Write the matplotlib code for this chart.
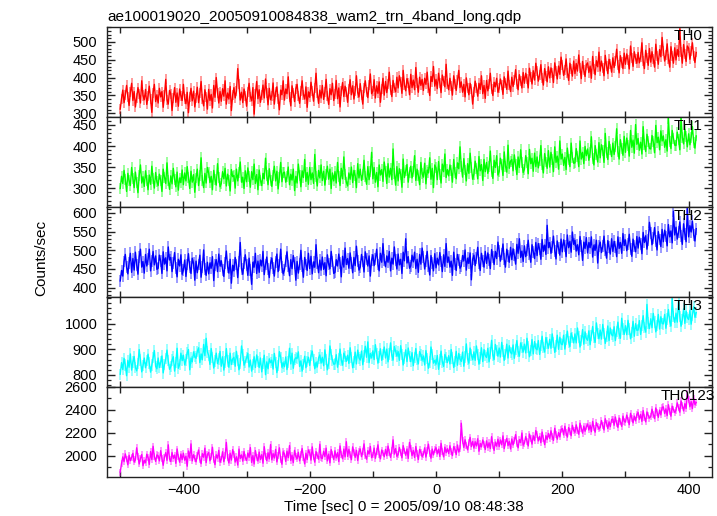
import numpy as np
import matplotlib
matplotlib.use('Agg')
import matplotlib.pyplot as plt
from matplotlib.ticker import MultipleLocator, FixedLocator, FuncFormatter

plt.rcParams['font.family'] = ['Liberation Sans', 'DejaVu Sans']

TITLE = "ae100019020_20050910084838_wam2_trn_4band_long.qdp"
XLABEL = "Time [sec] 0 = 2005/09/10 08:48:38"
YLABEL = "Counts/sec"

# time bins (s): first bin centre and bin width
BIN_START = -500.0
BIN_WIDTH = 2.0

th0 = [312, 341, 365, 330, 352, 378, 347, 322, 359, 384,
       336, 361, 318, 344, 372, 355, 329, 391, 350, 338,
       367, 325, 349, 376, 340, 303, 358, 381, 333, 352,
       329, 370, 346, 361, 317, 350, 395, 338, 326, 364,
       355, 308, 343, 372, 331, 357, 320, 368, 349, 336,
       381, 341, 327, 359, 302, 346, 370, 335, 362, 318,
       344, 373, 330, 356, 389, 339, 321, 366, 347, 312,
       367, 336, 353, 315, 378, 345, 400, 358, 329, 361,
       334, 369, 348, 391, 326, 357, 340, 375, 308, 351,
       372, 343, 362, 425, 381, 337, 359, 330, 368, 349,
       320, 361, 384, 347, 335, 372, 298, 354, 389, 341,
       366, 331, 352, 379, 343, 396, 357, 324, 370, 338,
       349, 385, 326, 360, 374, 339, 310, 365, 352, 391,
       337, 368, 355, 402, 346, 321, 377, 358, 333, 369,
       381, 349, 328, 363, 391, 352, 340, 374, 317, 360,
       345, 387, 362, 334, 370, 412, 356, 328, 365, 343,
       378, 339, 360, 395, 348, 325, 369, 352, 384, 336,
       355, 392, 341, 371, 318, 362, 386, 347, 376, 359,
       331, 369, 394, 352, 377, 340, 363, 405, 358, 346,
       383, 352, 326, 370, 391, 361, 344, 378, 410, 355,
       362, 394, 343, 377, 356, 388, 331, 369, 398, 351,
       389, 358, 381, 415, 366, 347, 392, 372, 360, 401,
       371, 405, 388, 356, 420, 379, 363, 397, 384, 352,
       409, 372, 393, 366, 428, 384, 359, 401, 378, 395,
       364, 398, 381, 415, 372, 350, 403, 389, 431, 376,
       395, 369, 412, 384, 358, 407, 390, 374, 437, 382,
       366, 398, 377, 351, 405, 383, 364, 393, 420, 372,
       388, 359, 381, 346, 399, 371, 352, 384, 367, 326,
       361, 390, 372, 348, 384, 367, 405, 355, 378, 342,
       392, 363, 381, 412, 368, 350, 387, 374, 398, 359,
       370, 396, 378, 353, 402, 385, 367, 418, 380, 361,
       401, 375, 393, 422, 382, 366, 408, 390, 371, 414,
       384, 412, 397, 371, 426, 401, 382, 419, 393, 440,
       417, 390, 408, 436, 398, 379, 425, 405, 388, 430,
       399, 427, 413, 386, 441, 418, 396, 432, 409, 457,
       434, 406, 421, 452, 413, 392, 440, 423, 404, 446,
       411, 439, 418, 463, 427, 397, 445, 420, 403, 436,
       441, 414, 432, 398, 459, 425, 408, 447, 430, 471,
       418, 446, 427, 405, 462, 433, 411, 451, 437, 415,
       455, 428, 447, 479, 436, 413, 461, 442, 425, 468,
       437, 466, 449, 424, 488, 455, 431, 472, 453, 440,
       470, 441, 458, 497, 446, 425, 476, 455, 434, 481,
       443, 472, 451, 429, 493, 460, 437, 478, 458, 512,
       475, 446, 463, 494, 452, 429, 486, 461, 440, 483,
       449, 478, 459, 536, 471, 440, 492, 465, 445, 488,
       482, 451, 473, 497, 460, 442, 470]

th1 = [299, 328, 311, 342, 320, 292, 335, 317, 306, 349,
       323, 301, 338, 314, 289, 330, 355, 312, 327, 304,
       341, 318, 296, 331, 309, 352, 322, 300, 337, 315,
       306, 333, 319, 292, 345, 326, 311, 360, 318, 297,
       329, 310, 347, 321, 303, 338, 295, 324, 313, 343,
       308, 336, 317, 351, 326, 299, 340, 314, 332, 290,
       324, 345, 306, 330, 372, 319, 301, 335, 312, 349,
       336, 313, 328, 296, 342, 321, 307, 358, 325, 303,
       311, 339, 322, 347, 305, 333, 318, 293, 344, 327,
       330, 300, 345, 317, 338, 362, 314, 326, 299, 341,
       315, 348, 327, 302, 339, 320, 357, 311, 332, 296,
       343, 318, 306, 335, 322, 371, 329, 308, 346, 319,
       304, 331, 352, 317, 340, 298, 326, 361, 315, 336,
       338, 314, 327, 350, 308, 333, 319, 345, 294, 328,
       312, 357, 330, 303, 341, 325, 368, 316, 337, 309,
       349, 320, 336, 311, 380, 327, 305, 342, 324, 355,
       318, 340, 307, 333, 352, 321, 345, 299, 336, 317,
       339, 312, 361, 328, 306, 347, 322, 374, 333, 314,
       305, 336, 321, 350, 313, 342, 329, 301, 358, 324,
       345, 318, 333, 366, 327, 309, 351, 320, 339, 385,
       322, 349, 314, 337, 303, 355, 331, 344, 316, 362,
       340, 311, 358, 326, 347, 320, 393, 335, 307, 351,
       317, 346, 333, 302, 369, 325, 341, 356, 314, 338,
       352, 324, 339, 377, 318, 345, 330, 308, 361, 334,
       326, 359, 310, 343, 336, 372, 321, 347, 301, 355,
       348, 320, 363, 333, 312, 357, 339, 381, 325, 344,
       329, 355, 341, 314, 368, 337, 322, 360, 346, 398,
       352, 326, 370, 343, 317, 358, 335, 383, 349, 321,
       333, 364, 347, 322, 375, 341, 356, 318, 368, 339,
       361, 335, 352, 388, 340, 323, 366, 349, 377, 331,
       339, 371, 355, 330, 386, 352, 338, 402, 347, 364,
       368, 341, 379, 356, 332, 374, 349, 391, 360, 337,
       345, 377, 360, 334, 392, 358, 371, 340, 383, 351,
       374, 348, 366, 401, 355, 336, 382, 362, 347, 389,
       350, 385, 367, 339, 398, 361, 376, 345, 412, 369,
       381, 354, 373, 344, 395, 368, 351, 407, 372, 359,
       360, 394, 376, 351, 412, 369, 385, 358, 399, 377,
       393, 366, 384, 422, 371, 355, 401, 380, 362, 408,
       372, 403, 389, 361, 430, 384, 368, 411, 392, 375,
       407, 380, 398, 441, 386, 369, 415, 395, 378, 423,
       385, 419, 401, 376, 437, 397, 414, 383, 451, 404,
       418, 390, 409, 381, 446, 403, 387, 428, 411, 394,
       393, 425, 410, 384, 449, 408, 421, 391, 436, 412,
       424, 397, 415, 388, 466, 411, 394, 437, 418, 402,
       401, 433, 416, 391, 468, 420, 405, 440, 422, 398,
       429, 403, 421, 446, 409, 395, 424]

th2 = [418, 446, 431, 470, 489, 455, 437, 466, 492, 441,
       478, 447, 495, 461, 436, 482, 503, 455, 470, 439,
       489, 458, 476, 503, 445, 472, 497, 461, 485, 449,
       452, 487, 471, 438, 496, 463, 480, 445, 509, 474,
       481, 443, 467, 494, 452, 429, 476, 458, 488, 436,
       447, 474, 430, 462, 491, 455, 438, 479, 466, 420,
       471, 440, 462, 487, 428, 455, 501, 449, 433, 468,
       437, 466, 452, 483, 419, 461, 475, 443, 490, 458,
       472, 448, 430, 467, 498, 456, 439, 476, 412, 460,
       445, 481, 462, 427, 470, 521, 451, 436, 465, 488,
       460, 433, 479, 447, 409, 468, 455, 492, 438, 471,
       441, 474, 458, 497, 435, 462, 482, 450, 427, 466,
       479, 452, 431, 468, 490, 443, 461, 503, 455, 437,
       448, 471, 496, 459, 432, 475, 451, 486, 465, 420,
       470, 439, 463, 500, 457, 428, 481, 462, 446, 492,
       451, 484, 437, 469, 455, 515, 466, 440, 474, 447,
       482, 449, 467, 432, 488, 463, 451, 497, 470, 438,
       441, 475, 458, 490, 467, 429, 484, 455, 506, 462,
       478, 452, 493, 466, 440, 481, 459, 511, 471, 447,
       455, 489, 470, 442, 496, 476, 458, 485, 431, 474,
       488, 459, 477, 503, 462, 445, 492, 468, 518, 473,
       456, 485, 468, 497, 445, 479, 463, 509, 474, 450,
       490, 461, 476, 438, 495, 472, 531, 466, 483, 452,
       458, 487, 469, 495, 451, 476, 441, 489, 463, 506,
       481, 450, 472, 497, 458, 434, 486, 465, 445, 491,
       453, 479, 461, 494, 470, 443, 488, 457, 518, 468,
       482, 455, 471, 433, 495, 464, 446, 489, 473, 452,
       458, 486, 472, 501, 447, 479, 465, 493, 421, 476,
       487, 459, 480, 508, 466, 446, 492, 471, 455, 497,
       465, 493, 474, 451, 502, 481, 462, 497, 478, 522,
       499, 471, 490, 517, 476, 455, 503, 485, 468, 508,
       475, 504, 487, 463, 516, 492, 531, 481, 498, 470,
       512, 483, 500, 527, 491, 468, 515, 496, 478, 521,
       486, 518, 503, 476, 529, 497, 514, 489, 567, 507,
       521, 492, 510, 538, 499, 477, 525, 506, 487, 530,
       496, 528, 512, 483, 541, 507, 524, 495, 549, 516,
       527, 498, 515, 488, 537, 511, 473, 522, 505, 534,
       493, 521, 507, 536, 482, 514, 500, 527, 466, 511,
       522, 494, 511, 538, 500, 479, 526, 508, 490, 531,
       497, 524, 510, 483, 536, 505, 521, 492, 545, 513,
       528, 499, 516, 543, 503, 484, 530, 511, 496, 537,
       506, 535, 518, 491, 548, 521, 539, 503, 527, 575,
       546, 515, 533, 561, 524, 501, 550, 529, 510, 556,
       523, 554, 537, 512, 569, 536, 552, 520, 605, 541,
       562, 530, 548, 576, 539, 516, 571, 544, 523, 612,
       536, 566, 549, 578, 541, 525, 558]

th3 = [803, 848, 821, 865, 839, 797, 857, 830, 882, 819,
       851, 872, 829, 816, 845, 899, 858, 812, 836, 866,
       828, 855, 881, 847, 811, 839, 869, 895, 834, 824,
       866, 829, 850, 874, 808, 841, 863, 897, 855, 822,
       832, 858, 871, 815, 849, 904, 826, 840, 885, 856,
       877, 839, 858, 886, 899, 820, 866, 851, 890, 871,
       865, 892, 906, 848, 882, 859, 919, 875, 943, 890,
       876, 841, 903, 868, 827, 854, 885, 844, 862, 892,
       834, 871, 819, 850, 903, 854, 830, 885, 841, 862,
       869, 834, 892, 857, 820, 844, 913, 878, 838, 851,
       867, 884, 831, 858, 815, 840, 871, 829, 878, 853,
       829, 866, 812, 845, 877, 801, 851, 824, 863, 848,
       858, 823, 884, 849, 809, 836, 891, 869, 830, 847,
       832, 870, 821, 851, 904, 843, 885, 826, 860, 867,
       864, 890, 833, 855, 815, 841, 873, 828, 852, 869,
       837, 875, 893, 858, 824, 849, 831, 866, 878, 846,
       869, 836, 898, 861, 820, 845, 913, 880, 857, 842,
       843, 879, 830, 862, 901, 858, 838, 885, 871, 853,
       877, 845, 906, 868, 828, 851, 889, 843, 897, 866,
       858, 893, 840, 874, 912, 869, 929, 848, 884, 866,
       894, 860, 918, 883, 846, 870, 902, 857, 879, 909,
       866, 901, 851, 882, 925, 877, 858, 911, 893, 874,
       891, 857, 914, 879, 839, 866, 898, 852, 905, 873,
       852, 887, 836, 869, 903, 861, 843, 891, 878, 858,
       874, 839, 895, 863, 826, 850, 909, 881, 846, 857,
       842, 876, 822, 859, 893, 851, 833, 880, 867, 848,
       875, 843, 899, 866, 829, 853, 892, 838, 884, 861,
       853, 889, 834, 870, 921, 862, 846, 905, 878, 859,
       890, 857, 913, 879, 842, 866, 906, 852, 899, 875,
       868, 904, 851, 886, 935, 877, 860, 919, 895, 873,
       905, 870, 927, 893, 857, 881, 920, 866, 914, 888,
       882, 917, 865, 900, 934, 891, 873, 925, 908, 889,
       920, 886, 943, 909, 871, 896, 938, 882, 930, 903,
       898, 934, 880, 915, 951, 907, 889, 946, 925, 904,
       939, 904, 960, 926, 888, 913, 955, 900, 947, 921,
       918, 955, 901, 937, 971, 928, 911, 963, 946, 925,
       960, 925, 983, 948, 909, 934, 977, 920, 968, 942,
       935, 972, 918, 954, 989, 946, 927, 1003, 963, 941,
       975, 940, 997, 962, 923, 949, 991, 934, 983, 957,
       952, 988, 934, 970, 1006, 961, 943, 1021, 979, 958,
       992, 957, 1013, 979, 941, 966, 1009, 951, 1000, 974,
       975, 1012, 958, 994, 1031, 985, 967, 1075, 1003, 981,
       1019, 984, 1040, 1006, 968, 993, 1036, 979, 1027, 1001,
       999, 1036, 982, 1018, 1055, 1009, 991, 1098, 1027, 1005,
       1041, 1006, 1090, 1028, 990, 1015, 1058, 1001, 1049, 1023,
       1016, 1052, 998, 1034, 1066, 1025, 1043]

th0123 = [1860, 1935, 1992, 1951, 2018, 1974, 1923, 2006, 1959, 1987,
          2023, 1948, 1966, 2071, 1994, 1930, 1979, 2012, 1915, 1962,
          1941, 2015, 1987, 1926, 2038, 1969, 2084, 1995, 1953, 2009,
          2001, 1957, 2046, 1978, 1919, 1990, 2029, 1962, 2097, 1974,
          1952, 2030, 1979, 2008, 1936, 2061, 1991, 1946, 2017, 1968,
          2024, 1963, 1998, 1911, 2043, 1982, 2105, 1957, 2011, 1976,
          1949, 2006, 2052, 1970, 1933, 2020, 1989, 2068, 1942, 2013,
          2031, 1958, 1995, 2076, 1967, 1924, 2010, 1981, 2049, 1946,
          1972, 2037, 1950, 2002, 2118, 1985, 1939, 2024, 1964, 2055,
          2015, 1947, 1993, 1921, 2060, 1978, 2009, 1955, 2039, 1983,
          1961, 2026, 1988, 2073, 1944, 2003, 1930, 2047, 1990, 1956,
          2034, 1969, 2011, 1937, 2081, 1997, 1959, 2028, 1975, 2099,
          1966, 2020, 1982, 2057, 1948, 2004, 2071, 1970, 1928, 2036,
          2018, 1953, 2042, 1985, 2090, 1961, 2007, 1942, 2049, 1996,
          1975, 2032, 1958, 2011, 2065, 1989, 1931, 2024, 1969, 2053,
          2027, 1964, 2079, 1991, 1946, 2038, 2003, 1972, 2102, 1983,
          1978, 2041, 1995, 2068, 1957, 2016, 1940, 2055, 2009, 1969,
          2045, 1983, 2029, 1951, 2087, 2011, 1976, 2060, 1992, 2124,
          1996, 2058, 2010, 1967, 2079, 2032, 1988, 2049, 1961, 2036,
          2061, 1994, 2038, 2105, 2003, 1972, 2046, 2017, 2083, 1985,
          2008, 2069, 1980, 2035, 2097, 2014, 1975, 2052, 2026, 1993,
          2057, 2002, 2086, 2031, 1988, 2049, 2140, 2016, 2064, 1997,
          2011, 2074, 2029, 1984, 2090, 2043, 2006, 2061, 1979, 2118,
          2065, 2003, 2048, 1987, 2082, 2022, 1969, 2057, 2034, 1995,
          2014, 2071, 1990, 2046, 2103, 2025, 1981, 2060, 2009, 2053,
          2072, 2018, 2059, 1996, 2110, 2035, 1992, 2077, 2028, 2063,
          2021, 2089, 2040, 2003, 2081, 2057, 2012, 2096, 2034, 2068,
          2285, 2132, 2074, 2141, 2089, 2053, 2117, 2162, 2081, 2126,
          2068, 2124, 2087, 2150, 2041, 2108, 2079, 2139, 2102, 2056,
          2131, 2073, 2115, 2064, 2168, 2092, 2049, 2121, 2085, 2146,
          2082, 2139, 2097, 2175, 2064, 2118, 2153, 2090, 2127, 2061,
          2148, 2096, 2135, 2186, 2109, 2071, 2142, 2117, 2200, 2094,
          2112, 2168, 2126, 2087, 2191, 2149, 2103, 2176, 2134, 2221,
          2184, 2131, 2170, 2116, 2208, 2149, 2098, 2177, 2143, 2196,
          2153, 2219, 2172, 2135, 2241, 2188, 2146, 2203, 2166, 2230,
          2238, 2183, 2259, 2201, 2164, 2247, 2215, 2176, 2266, 2222,
          2206, 2271, 2224, 2189, 2285, 2242, 2198, 2260, 2215, 2253,
          2279, 2226, 2268, 2211, 2301, 2243, 2207, 2290, 2257, 2235,
          2248, 2308, 2263, 2226, 2324, 2281, 2239, 2297, 2255, 2316,
          2321, 2267, 2339, 2284, 2249, 2330, 2296, 2258, 2347, 2302,
          2294, 2356, 2313, 2272, 2371, 2329, 2288, 2347, 2305, 2362,
          2378, 2319, 2361, 2301, 2395, 2336, 2297, 2383, 2352, 2329,
          2344, 2407, 2361, 2325, 2418, 2380, 2336, 2399, 2357, 2423,
          2427, 2369, 2410, 2351, 2446, 2388, 2346, 2433, 2402, 2378,
          2398, 2462, 2419, 2381, 2479, 2436, 2392, 2455, 2413, 2541,
          2489, 2428, 2473, 2412, 2502, 2447, 2466]

# typical 1-sigma error per band (counts/sec)
errors = [14, 13, 16, 22, 30]
names = ["TH0", "TH1", "TH2", "TH3", "TH0123"]
colors = ["#ff0000", "#00ff00", "#0000ff", "#00ffff", "#ff00ff"]
data = [th0, th1, th2, th3, th0123]

ylims = [(290, 541), (255, 469), (375, 616), (753, 1104), (1817, 2600)]
yticks = [[300, 350, 400, 450, 500], [300, 350, 400, 450],
          [400, 450, 500, 550, 600], [800, 900, 1000],
          [2000, 2200, 2400, 2600]]
yminor = [10, 10, 10, 20, 100]
xlim = (-521, 437)

W, H = 717, 516
fig = plt.figure(figsize=(W / 100, H / 100), dpi=100)
left, right = 107 / W, 712 / W
top_px, panel_px = 27, 90
spine_col = "#222222"
FS = 10.5

axes = []
for i, (name, y, err, col) in enumerate(zip(names, data, errors, colors)):
    y = np.asarray(y, dtype=float)
    t = BIN_START + BIN_WIDTH * np.arange(len(y))
    bottom = 1 - (top_px + (i + 1) * panel_px) / H
    ax = fig.add_axes([left, bottom, right - left, panel_px / H])
    ax.errorbar(t, y, yerr=err, fmt='none', ecolor=col, alpha=0.5,
                elinewidth=1.1, capsize=0)
    ax.plot(t, y, color=col, lw=1.0)
    ax.set_xlim(*xlim)
    ax.set_ylim(*ylims[i])
    ax.yaxis.set_major_locator(FixedLocator(yticks[i]))
    ax.yaxis.set_minor_locator(MultipleLocator(yminor[i]))
    ax.xaxis.set_major_locator(MultipleLocator(100))
    ax.tick_params(axis='both', which='both', direction='in',
                   top=True, right=True, colors=spine_col,
                   labelcolor='black', labelsize=FS)
    ax.tick_params(axis='y', which='major', length=5.5, width=1.0, pad=7)
    ax.tick_params(axis='y', which='minor', length=2.8, width=0.9)
    ax.tick_params(axis='x', which='major', length=4.5, width=1.0, pad=4)
    for s in ax.spines.values():
        s.set_color(spine_col)
        s.set_linewidth(1.0)
    if i < len(names) - 1:
        ax.tick_params(axis='x', labelbottom=False)
    else:
        ax.xaxis.set_major_formatter(FuncFormatter(
            lambda v, p: ("\u2212%d" % abs(v) if v < 0 else "%d" % v)
            if int(round(v)) % 200 == 0 else ""))
    ax.text(688 / W, 1 - (top_px + i * panel_px + 2) / H, name,
            transform=fig.transFigure, ha='center', va='top',
            fontsize=FS + 0.5, color='black')
    axes.append(ax)

fig.text(left, 1 - 21 / H, TITLE, ha='left', va='baseline', fontsize=FS + 0.5)
fig.text(41 / W, 1 - 258 / H, YLABEL, rotation=90, ha='center',
         va='center', fontsize=FS + 0.5)
fig.text(404 / W, 1 - 507 / H, XLABEL, ha='center', va='center',
         fontsize=FS + 0.5)

fig.savefig("out.png", dpi=100)
